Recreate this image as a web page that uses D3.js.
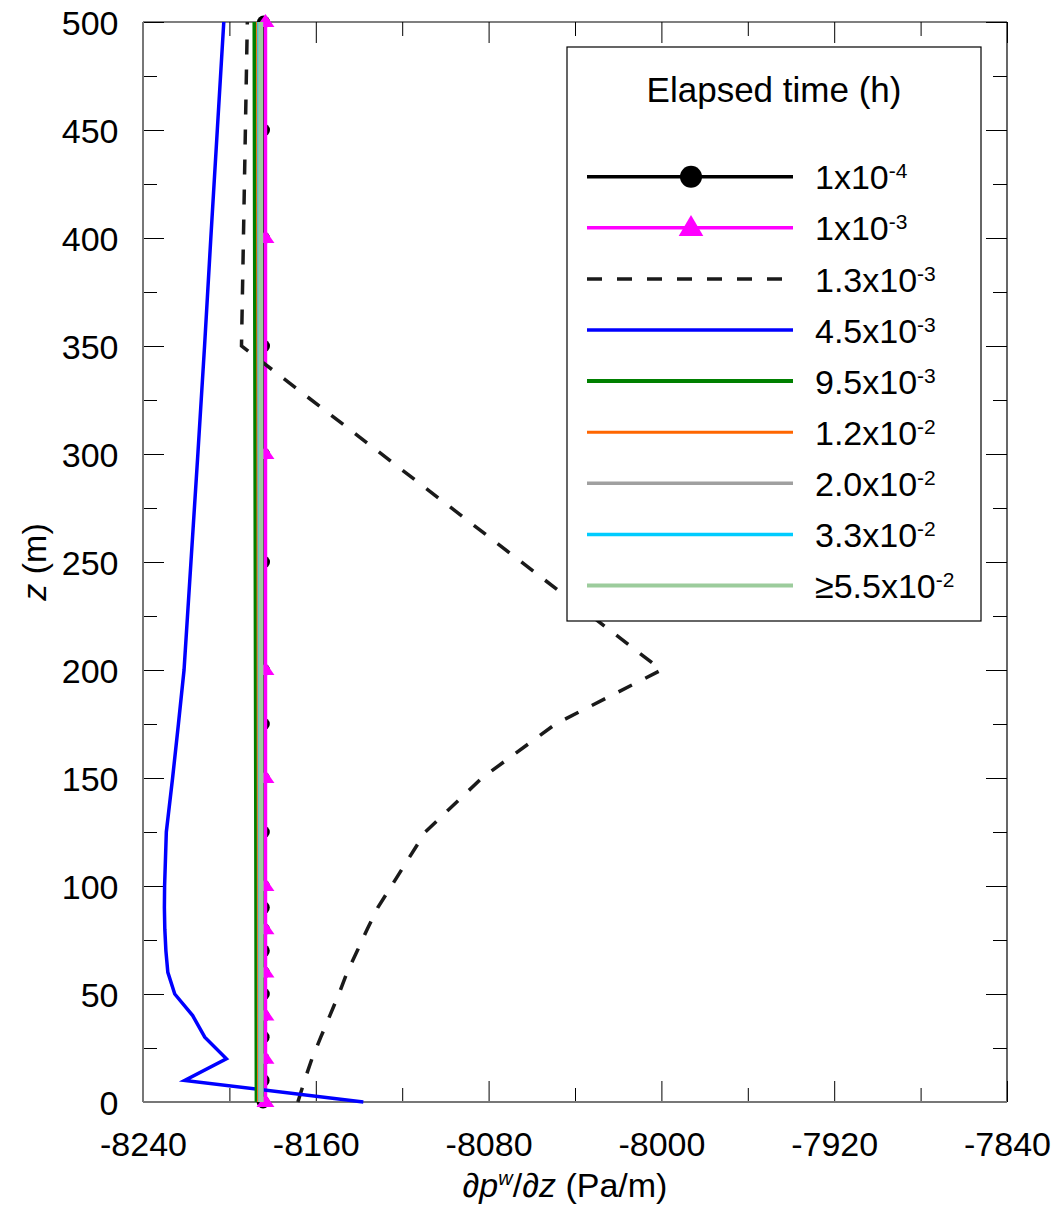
<!DOCTYPE html>
<html>
<head>
<meta charset="utf-8">
<script src="https://cdn.jsdelivr.net/npm/d3@7"></script>
<style>
  body { margin: 0; background: #fff; }
  svg text { font-family: "Liberation Sans", Arial, sans-serif; fill: #000; }
</style>
</head>
<body>
<div id="container"></div>
<script>
/* CONSTANTS AND GLOBALS */
const width = 1064;
const height = 1211;
const margin = {top: 22, right: 57, bottom: 109, left: 143};

/* DATA */
const xMajor = [-8240, -8160, -8080, -8000, -7920, -7840];
const xMinor = [-8200, -8120, -8040, -7960, -7880];
const yMajor = [0, 50, 100, 150, 200, 250, 300, 350, 400, 450, 500];
const yMinor = [25, 75, 125, 175, 225, 275, 325, 375, 425, 475];

// depth z (m) for each curve and its pressure gradient (Pa/m)
const zFine = [0, 10, 20, 30, 40, 50, 60, 70, 80, 90, 100, 125, 150, 175, 200, 250, 300, 350, 400, 450, 500];
const zCoarse = [0, 20, 40, 60, 80, 100, 150, 200, 300, 400, 500];
const zDashed = [0, 10, 20, 30, 40, 50, 60, 70, 80, 90, 100, 125, 150, 175, 200, 350, 400, 450, 500];
const zLate = [0, 100, 200, 300, 400, 500];

const grad1e4 = [-8184.4, -8184.4, -8184.4, -8184.4, -8184.4, -8184.3, -8184.3, -8184.3, -8184.3, -8184.3, -8184.3,
                 -8184.3, -8184.3, -8184.3, -8184.2, -8184.2, -8184.2, -8184.2, -8184.2, -8184.2, -8184.2];
const grad1e3 = [-8183.3, -8183.3, -8183.3, -8183.3, -8183.3, -8183.3, -8183.3, -8183.3, -8183.3, -8183.3, -8183.3];
const grad13e3 = [-8168.3, -8165.2, -8161.8, -8157.7, -8153.5, -8149.3, -8145.5, -8140.8, -8136.2, -8131.3, -8125,
                  -8109.3, -8083.1, -8049, -8000, -8194.4, -8193.5, -8192.6, -8191.7];
const grad45e3 = [-8138, -8220.7, -8201.4, -8211.4, -8217, -8225.3, -8228.5, -8229.4, -8229.9, -8230.1, -8230,
                  -8229.2, -8226.3, -8223.6, -8221, -8217.8, -8214.6, -8211.5, -8208.6, -8205.6, -8202.6];
const grad95e3 = [-8187.4, -8187.6, -8187.8, -8188, -8188.2, -8188.4];
const grad12e2 = [-8186.5, -8186.6, -8186.7, -8186.8, -8186.9, -8187];
const grad20e2 = [-8186, -8186.1, -8186.2, -8186.3, -8186.4, -8186.5];
const grad33e2 = [-8185.7, -8185.8, -8185.9, -8186, -8186.1, -8186.2];
const grad55e2 = [-8185.3, -8185.3, -8185.4, -8185.4, -8185.5, -8185.5];

const labelPrefix = ["", "", "", "", "", "", "", "", "≥"];
const labelBase = ["1x10", "1x10", "1.3x10", "4.5x10", "9.5x10", "1.2x10", "2.0x10", "3.3x10", "5.5x10"];
const labelExp = ["-4", "-3", "-3", "-3", "-3", "-2", "-2", "-2", "-2"];
const colors = ["#000000", "#ff00ff", "#1a1a1a", "#0000ff", "#008000", "#ff6600", "#a0a0a0", "#00ccff", "#9ccc9c"];

const series = [
  {z: zFine, v: grad1e4, marker: "circle"},
  {z: zCoarse, v: grad1e3, marker: "triangle"},
  {z: zDashed, v: grad13e3, dash: "15,15"},
  {z: zFine, v: grad45e3},
  {z: zLate, v: grad95e3, w: 4},
  {z: zLate, v: grad12e2, w: 3},
  {z: zLate, v: grad20e2},
  {z: zLate, v: grad33e2},
  {z: zLate, v: grad55e2, w: 5}
].map((s, i) => ({...s, color: colors[i], prefix: labelPrefix[i], base: labelBase[i], exp: labelExp[i],
  points: s.z.map((z, j) => ({z: z, v: s.v[j]}))}));

/* SCALES */
const xScale = d3.scaleLinear()
  .domain([-8240, -7840])
  .range([margin.left, width - margin.right]);

const yScale = d3.scaleLinear()
  .domain([0, 500])
  .range([height - margin.bottom, margin.top]);

const x0 = margin.left, x1 = width - margin.right;
const y0 = height - margin.bottom, y1 = margin.top;

/* SVG */
const svg = d3.select("#container")
  .append("svg")
  .attr("width", width)
  .attr("height", height);

svg.append("rect").attr("width", width).attr("height", height).attr("fill", "#fff");

// ticks (inward on all four sides)
function tickAxis(axis, tr, vals, size, labels, pad) {
  const g = svg.append("g")
    .attr("transform", tr)
    .call(axis.tickValues(vals).tickSizeInner(size).tickSizeOuter(0).tickPadding(pad)
      .tickFormat(labels ? (d => String(d)) : ""));
  g.select(".domain").remove();
  g.selectAll(".tick line").attr("stroke", "#000").attr("stroke-width", 1);
  g.selectAll("text").style("font-size", "34px").attr("font-family", null);
  return g;
}

tickAxis(d3.axisBottom(xScale), `translate(0,${y0})`, xMajor, -21, true, 30);
tickAxis(d3.axisBottom(xScale), `translate(0,${y0})`, xMinor, -14, false, 0);
tickAxis(d3.axisTop(xScale), `translate(0,${y1})`, xMajor, -21, false, 0);
tickAxis(d3.axisTop(xScale), `translate(0,${y1})`, xMinor, -14, false, 0);
const gy = tickAxis(d3.axisLeft(yScale), `translate(${x0},0)`, yMajor, -21, true, 24.5);
tickAxis(d3.axisLeft(yScale), `translate(${x0},0)`, yMinor, -14, false, 0);
tickAxis(d3.axisRight(yScale), `translate(${x1},0)`, yMajor, -21, false, 0);
tickAxis(d3.axisRight(yScale), `translate(${x1},0)`, yMinor, -14, false, 0);
gy.selectAll("text").attr("dy", "0.36em");

// frame
svg.append("line").attr("x1", x0).attr("x2", x1).attr("y1", y1).attr("y2", y1).attr("stroke", "#000").attr("stroke-width", 1.2);
svg.append("line").attr("x1", x1).attr("x2", x1).attr("y1", y1).attr("y2", y0).attr("stroke", "#000").attr("stroke-width", 1.2);
svg.append("line").attr("x1", x0).attr("x2", x1).attr("y1", y0).attr("y2", y0).attr("stroke", "#777").attr("stroke-width", 2);
svg.append("line").attr("x1", x0).attr("x2", x0).attr("y1", y1).attr("y2", y0).attr("stroke", "#777").attr("stroke-width", 2);

// axis titles
const xTitle = svg.append("text")
  .attr("x", 565).attr("y", 1197)
  .attr("text-anchor", "middle")
  .style("font-size", "34px");
xTitle.append("tspan").style("font-style", "italic").text("∂p");
xTitle.append("tspan").style("font-style", "italic").style("font-size", "20px").attr("dy", -12).text("w");
xTitle.append("tspan").attr("dy", 12).text("/");
xTitle.append("tspan").style("font-style", "italic").text("∂z");
xTitle.append("tspan").text(" (Pa/m)");

const yTitle = svg.append("text")
  .attr("transform", `translate(46,${(y0 + y1) / 2}) rotate(-90)`)
  .attr("text-anchor", "middle")
  .style("font-size", "34px");
yTitle.append("tspan").style("font-style", "italic").text("z");
yTitle.append("tspan").text(" (m)");

/* LINES */
const line = d3.line()
  .x(d => xScale(d.v))
  .y(d => yScale(d.z));

const triPath = (hw, up, down) => `M0,${-up}L${hw},${down}L${-hw},${down}Z`;

series.forEach(s => {
  svg.append("path")
    .datum(s.points)
    .attr("d", line)
    .attr("fill", "none")
    .attr("stroke", s.color)
    .attr("stroke-width", s.w || 3.5)
    .attr("stroke-dasharray", s.dash || null)
    .attr("stroke-linejoin", "miter");

  if (s.marker === "circle") {
    svg.selectAll(null)
      .data(s.points)
      .join("circle")
      .attr("cx", d => xScale(d.v))
      .attr("cy", d => yScale(d.z))
      .attr("r", 6.5)
      .attr("fill", s.color);
  }
  if (s.marker === "triangle") {
    svg.selectAll(null)
      .data(s.points)
      .join("path")
      .attr("transform", d => `translate(${xScale(d.v)},${yScale(d.z)})`)
      .attr("d", triPath(9, 8, 5))
      .attr("fill", s.color);
  }
});

/* LEGEND */
const legend = svg.append("g");
legend.append("rect")
  .attr("x", 567).attr("y", 47)
  .attr("width", 414).attr("height", 574)
  .attr("fill", "#fff")
  .attr("stroke", "#000")
  .attr("stroke-width", 1.2);

legend.append("text")
  .attr("x", 774).attr("y", 102)
  .attr("text-anchor", "middle")
  .style("font-size", "35px")
  .text("Elapsed time (h)");

series.forEach((s, i) => {
  const ly = 176.7 + i * 51.1;
  legend.append("line")
    .attr("x1", 587).attr("x2", 793)
    .attr("y1", ly).attr("y2", ly)
    .attr("stroke", s.color)
    .attr("stroke-width", s.w ? Math.min(s.w, 4) : 3.5)
    .attr("stroke-dasharray", s.dash || null);
  if (s.marker === "circle") {
    legend.append("circle").attr("cx", 691).attr("cy", ly).attr("r", 11).attr("fill", s.color);
  }
  if (s.marker === "triangle") {
    legend.append("path").attr("transform", `translate(691,${ly})`)
      .attr("d", triPath(12.3, 12.7, 8.3)).attr("fill", s.color);
  }
  const t = legend.append("text")
    .attr("x", 815).attr("y", ly + 12.6)
    .style("font-size", "34px");
  t.append("tspan").text(s.prefix + s.base);
  t.append("tspan").attr("dy", -11).style("font-size", "21px").text(s.exp);
});
</script>
</body>
</html>
